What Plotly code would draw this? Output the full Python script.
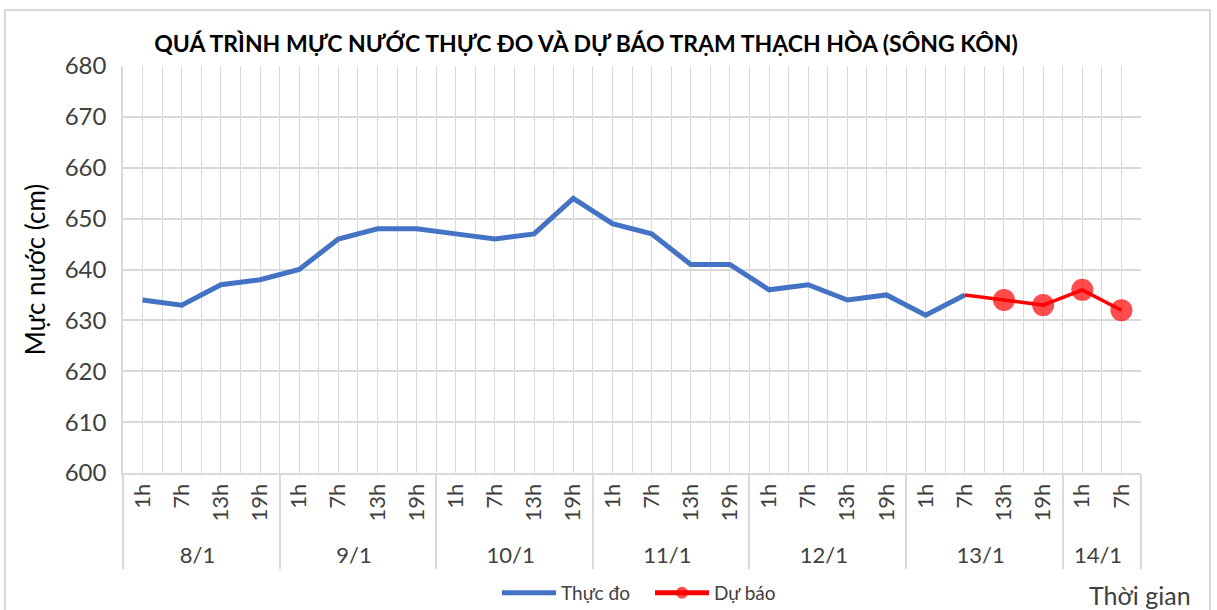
import plotly.graph_objects as go

# ---- data ----
day_labels = ["8/1"] * 4 + ["9/1"] * 4 + ["10/1"] * 4 + ["11/1"] * 4 + ["12/1"] * 4 + ["13/1"] * 4 + ["14/1"] * 2
hour_labels = ["1h", "7h", "13h", "19h"] * 6 + ["1h", "7h"]

observed = [634, 633, 637, 638, 640, 646, 648, 648, 647, 646, 647, 654,
            649, 647, 641, 641, 636, 637, 634, 635, 631, 635]
forecast = [635, 634, 633, 636, 632]
forecast_marker_sizes = [0, 22, 22, 22, 22]

y_ticks = [600, 610, 620, 630, 640, 650, 660, 670, 680]

title_text = "QUÁ TRÌNH MỰC NƯỚC THỰC ĐO VÀ DỰ BÁO TRẠM THẠCH HÒA (SÔNG KÔN)"
y_title = "Mực nước (cm)"
x_title = "Thời gian"
name_obs = "Thực đo"
name_fc = "Dự báo"

# ---- build ----
n = len(hour_labels)
obs_y = observed + [None] * (n - len(observed))
fc_y = [None] * (n - len(forecast)) + forecast
fc_sizes = [0] * (n - len(forecast)) + forecast_marker_sizes

FONT = "Lato"
GRID = "#D9D9D9"
TXT = "#404040"

fig = go.Figure()
# invisible helper trace on a numeric overlay axis: draws grid lines every half category
fig.add_trace(go.Scatter(x=[0, n - 1], y=[y_ticks[0], y_ticks[0]], xaxis="x2", yaxis="y",
                         mode="markers", marker=dict(opacity=0), showlegend=False, hoverinfo="skip"))
fig.add_trace(go.Scatter(x=[day_labels, hour_labels], y=obs_y, name=name_obs, mode="lines",
                         line=dict(color="#4472C4", width=5), connectgaps=False))
fig.add_trace(go.Scatter(x=[day_labels, hour_labels], y=fc_y, name=name_fc, mode="lines+markers",
                         line=dict(color="#FF0000", width=3.5),
                         marker=dict(color="#FF0000", size=fc_sizes, line=dict(width=0))))

L, R, T, B = 123, 76, 66, 137
W, H = 1217, 610
pw, ph = W - L - R, H - T - B

def px_x(p):
    return (p - L) / pw

def px_y(p):
    return (H - B - p) / ph

fig.update_layout(
    width=W, height=H,
    margin=dict(l=L, r=R, t=T, b=B, autoexpand=False),
    paper_bgcolor="white", plot_bgcolor="white",
    font=dict(family=FONT, color=TXT),
    title=dict(text="<b>" + title_text + "</b>", font=dict(size=23, color="#000000", family=FONT),
               x=px_x(586), xref="paper", xanchor="center", y=1 - 44 / H, yanchor="middle"),
    showlegend=True,
    legend=dict(orientation="h", x=px_x(650), xanchor="center", y=px_y(593), yanchor="middle",
                font=dict(size=19, color=TXT), itemsizing="constant", itemwidth=54,
                entrywidth=84, bgcolor="rgba(0,0,0,0)"),
    xaxis=dict(type="multicategory", showgrid=False, showline=True, linecolor=GRID, linewidth=2,
               tickangle=-90, tickfont=dict(size=22, color=TXT), automargin=False,
               showdividers=True, dividercolor=GRID, dividerwidth=2,
               ticks="", mirror=False, range=[-0.5, n - 0.5]),
    xaxis2=dict(overlaying="x", anchor="y", range=[-0.5, n - 0.5], showgrid=True, gridcolor=GRID,
                gridwidth=1, tick0=-0.5, dtick=0.5, showticklabels=False, ticks="", zeroline=False,
                showline=False, automargin=False),
    yaxis=dict(range=[y_ticks[0], y_ticks[-1]], tickvals=y_ticks, showgrid=True, gridcolor=GRID,
               gridwidth=1.5, showline=True, linecolor=GRID, linewidth=1.5, zeroline=False,
               tickfont=dict(size=24, color=TXT), ticks="", ticklabelstandoff=10, automargin=False,
               title=dict(text=y_title, font=dict(size=26, color="#000000"), standoff=12)),
    annotations=[dict(text=x_title, xref="paper", yref="paper", x=px_x(1140), y=px_y(595),
                      xanchor="center", yanchor="middle", showarrow=False,
                      font=dict(size=25, color=TXT))],
    shapes=[dict(type="rect", xref="paper", yref="paper", x0=px_x(5), x1=px_x(1210),
                 y0=px_y(615), y1=px_y(10), line=dict(color="#D9D9D9", width=2), layer="below")],
)

fig.write_html("out.html", post_script="document.body.style.margin='0px';",
               config={"displayModeBar": False})
